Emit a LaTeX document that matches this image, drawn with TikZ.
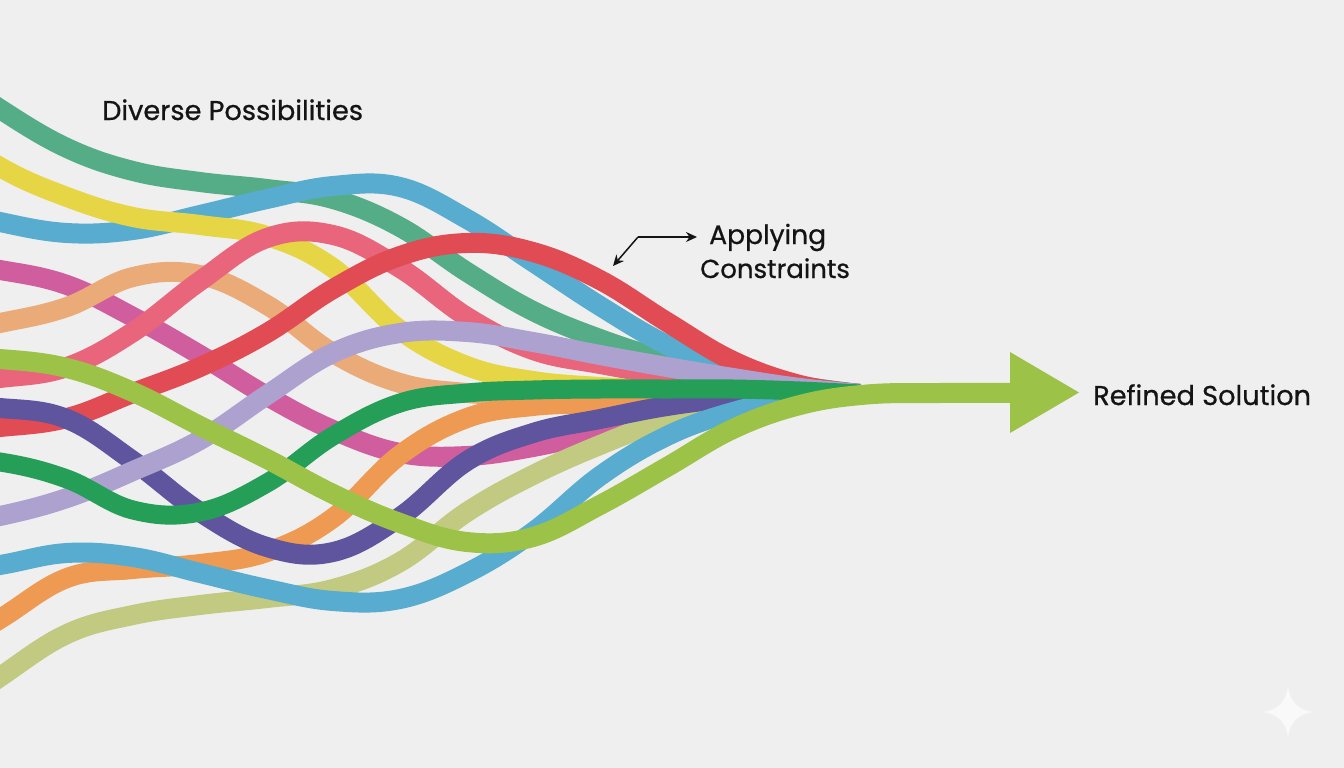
\documentclass[tikz,border=0pt]{standalone}
\usepackage{fontspec}
\usetikzlibrary{arrows.meta}
\setmainfont{Poppins}[FakeBold=0.7]
\definecolor{bgc}{HTML}{EFEFEF}
\definecolor{seagreen}{HTML}{55AD88}
\definecolor{skyb}{HTML}{58ACCF}
\definecolor{yel}{HTML}{E6D544}
\definecolor{rose}{HTML}{E8657B}
\definecolor{redd}{HTML}{E14B54}
\definecolor{magen}{HTML}{D05E9F}
\definecolor{peach}{HTML}{EAAB78}
\definecolor{limeg}{HTML}{9CC347}
\definecolor{purp}{HTML}{5F549E}
\definecolor{dgreen}{HTML}{259E58}
\definecolor{lav}{HTML}{ADA2CF}
\definecolor{orng}{HTML}{EE9A52}
\definecolor{khak}{HTML}{C1CA80}
\definecolor{inkc}{HTML}{141414}
\tikzset{label text/.style={text=inkc,inner sep=0pt,anchor=base west},
  ribbon line/.style={line width=20pt,line join=round},
  pointer/.style={line width=1.5pt,inkc,-{Stealth[length=11pt,width=10pt]}}}
\begin{document}
\begin{tikzpicture}[x=1pt,y=-1pt]
\useasboundingbox (0,0) rectangle (1344,768);
\fill[bgc] (0,0) rectangle (1344,768);
\draw[ribbon line,magen] plot[smooth,tension=.65] coordinates {(-67,262) (0,270) (67,285) (133,317) (200,355) (267,396) (333,430) (400,453) (467,456) (533,447) (600,432) (667,417) (733,404) (790,396)};
\draw[ribbon line,peach] plot[smooth,tension=.65] coordinates {(-67,335) (0,323) (67,307) (133,277) (200,275) (267,305) (333,353) (400,383) (467,393) (533,395) (600,395)};
\draw[ribbon line,seagreen] plot[smooth,tension=.65] coordinates {(-67,62) (0,109) (67,148) (133,171) (200,182) (267,189) (333,199) (400,227) (467,272) (533,311) (600,339) (667,360) (733,373) (800,386) (860,394)};
\draw[ribbon line,skyb] plot[smooth,tension=.65] coordinates {(-67,205) (0,222) (67,233) (133,230) (200,215) (267,199) (333,186) (400,187) (467,219) (533,262) (600,306) (667,345) (733,371) (800,387) (860,394)};
\draw[ribbon line,yel] plot[smooth,tension=.65] coordinates {(-67,120) (0,167) (67,197) (133,217) (200,225) (267,236) (333,268) (400,330) (467,366) (533,381) (600,387) (667,390) (733,392)};
\draw[ribbon line,rose] plot[smooth,tension=.65] coordinates {(-67,383) (0,378) (67,367) (133,332) (200,281) (267,238) (333,235) (400,268) (467,317) (533,350) (600,364) (667,375) (733,383) (800,390) (860,394)};
\draw[ribbon line,redd] plot[smooth,tension=.65] coordinates {(-67,431) (0,427) (67,418) (133,393) (200,367) (267,333) (333,289) (400,256) (467,243) (533,252) (600,280) (667,322) (733,361) (800,385) (860,394)};
\draw[ribbon line,orng] plot[smooth,tension=.65] coordinates {(-67,660) (0,619) (67,578) (133,569) (200,564) (267,552) (333,518) (400,455) (467,418) (533,406) (600,403) (667,398) (733,395)};
\draw[ribbon line,khak] plot[smooth,tension=.65] coordinates {(-67,725) (0,677) (67,634) (133,615) (200,605) (267,598) (333,589) (400,562) (467,512) (533,475) (600,445) (667,420) (733,404) (790,396)};
\draw[ribbon line,purp] plot[smooth,tension=.65] coordinates {(-67,407) (0,408) (67,419) (133,461) (200,512) (267,547) (333,552) (400,517) (467,461) (533,433) (600,419) (667,406) (733,398) (790,396)};
\draw[ribbon line,lav] plot[smooth,tension=.65] coordinates {(-67,527) (0,516) (67,498) (133,471) (200,440) (267,395) (333,353) (400,333) (467,332) (533,342) (600,355) (667,367) (733,378) (800,388) (860,394)};
\draw[ribbon line,skyb] plot[smooth,tension=.65] coordinates {(-67,575) (0,565) (67,553) (133,557) (200,573) (267,589) (333,601) (400,599) (467,573) (533,532) (600,476) (667,436) (733,412) (800,398) (860,394)};
\draw[ribbon line,dgreen,line width=19pt] plot[smooth,tension=.65] coordinates {(-67,458) (0,462) (67,479) (133,510) (200,512) (267,483) (333,436) (400,403) (467,393) (533,390) (600,389) (667,389) (733,389) (800,391) (860,394)};
\draw[ribbon line,limeg] plot[smooth,tension=.65] coordinates {(-67,357) (0,359) (67,368) (133,392) (200,426) (267,459) (333,494) (400,523) (467,542) (533,537) (600,505) (667,467) (733,429) (800,405) (867,394.5) (940,393) (1012,393)};
\fill[limeg] (1010,352) -- (1079,392.5) -- (1010,433) -- cycle;
\fill[white!60!bgc] (1288,687) .. controls (1291,702) and (1297,709) .. (1312,712) .. controls (1297,715) and (1291,722) .. (1288,736) .. controls (1285,722) and (1279,715) .. (1264,712) .. controls (1279,709) and (1285,702) .. (1288,687) -- cycle;
\node[label text,font=\fontsize{27.2}{33}\selectfont] (diverse) at (102,120) {Diverse Possibilities};
\node[label text,font=\fontsize{26.6}{33}\selectfont] (applying) at (709,244) {Applying};
\node[label text,font=\fontsize{26}{33}\selectfont] (constraints) at (700,278) {Constraints};
\node[label text,font=\fontsize{27.2}{33}\selectfont] (refined) at (1093,405) {Refined Solution};
\coordinate (elbow) at (638,237);
\coordinate (toLabel) at (697,237);
\coordinate (toRibbon) at (613,266);
\draw[pointer] (elbow) -- (toLabel);
\draw[pointer] (elbow) -- (toRibbon);
\end{tikzpicture}
\end{document}
